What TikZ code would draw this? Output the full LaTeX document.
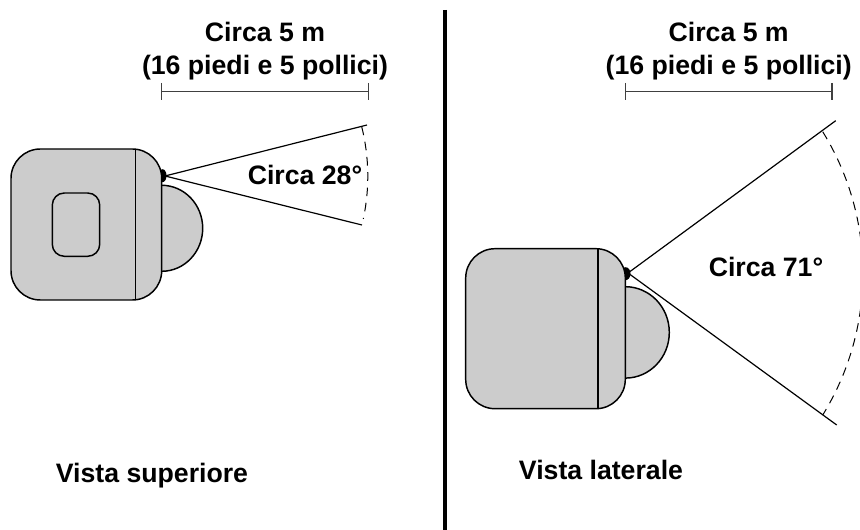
\documentclass[tikz,border=0pt]{standalone}
\usepackage{fontspec}
\usetikzlibrary{calc}
\setmainfont{Liberation Sans}
\definecolor{bodygray}{gray}{0.8}
\tikzset{
  bodyshape/.style={fill=bodygray,draw=black,line width=1.1pt},
  divider/.style={draw=black,line width=1.1pt},
  ray/.style={draw=black,line width=.9pt},
  dimline/.style={draw=black!75,line width=.9pt},
  sweep/.style={draw=black,line width=.75pt,dash pattern=on 6.5pt off 5pt},
  txt/.style={font=\bfseries\fontsize{20}{25}\selectfont,align=center,text=black,inner sep=0pt},
}
\begin{document}
\begin{tikzpicture}[x=0.75pt,y=-0.75pt]
\useasboundingbox (0,0) rectangle (860,530);
\clip (0,0) rectangle (860,530);
\draw[line width=2.3pt] (445,10) -- (445,530);
% top view
\coordinate (a1) at (165,176);
\coordinate (u1) at (367,125);
\coordinate (d1) at (362,225);
\coordinate (dl1) at (161.3,91.7);
\coordinate (dr1) at (368.3,91.7);
\fill[black] (162.5,175.7) ellipse [x radius=4,y radius=6.5];
\draw[bodyshape] (161.7,185.3) arc [start angle=-90,end angle=90,x radius=41,y radius=43];
\draw[bodyshape,rounded corners=22pt] (11,149) rectangle (161.7,300);
\draw[divider] (135.5,149) -- (135.5,300);
\draw[bodyshape,rounded corners=9pt] (52.3,193) rectangle (99.7,256.3);
\draw[ray] (a1) -- (u1);
\draw[ray] (a1) -- (d1);
\draw[sweep] (361.7,126.7) arc [start angle=-14,end angle=12,radius=205];
\draw[dimline] (dl1) -- (dr1);
\draw[dimline] ($(dl1)+(0,-8.7)$) -- ($(dl1)+(0,8.7)$);
\draw[dimline] ($(dr1)+(0,-8.7)$) -- ($(dr1)+(0,8.7)$);
\node[txt] (t1) at (265,51) {Circa 5 m\\(16 piedi e 5 pollici)};
\node[txt] (t2) at (305,175) {Circa 28°};
\node[txt] (t3) at (152,476) {Vista superiore};
% side view
\coordinate (a2) at (628,273);
\coordinate (u2) at (835.7,120.7);
\coordinate (d2) at (836.7,425);
\coordinate (dl2) at (625.3,91.7);
\coordinate (dr2) at (832,91.7);
\fill[black] (625.5,273.7) ellipse [x radius=5,y radius=6.5];
\draw[bodyshape] (625.3,286.7) arc [start angle=-90,end angle=90,x radius=44,y radius=45.7];
\draw[bodyshape,rounded corners=22pt] (465.7,248.7) rectangle (625.3,408.7);
\draw[divider] (598,248.7) -- (598,408.7);
\draw[ray] (a2) -- (u2);
\draw[ray] (a2) -- (d2);
\draw[sweep] (822.7,131.7) arc [start angle=-31.7,end angle=31.7,radius=269.6];
\draw[dimline] (dl2) -- (dr2);
\draw[dimline] ($(dl2)+(0,-8.7)$) -- ($(dl2)+(0,8.7)$);
\draw[dimline] ($(dr2)+(0,-8.7)$) -- ($(dr2)+(0,8.7)$);
\node[txt] (t4) at (728.7,51) {Circa 5 m\\(16 piedi e 5 pollici)};
\node[txt] (t5) at (766,267) {Circa 71°};
\node[txt] (t6) at (601,470) {Vista laterale};
\end{tikzpicture}
\end{document}
